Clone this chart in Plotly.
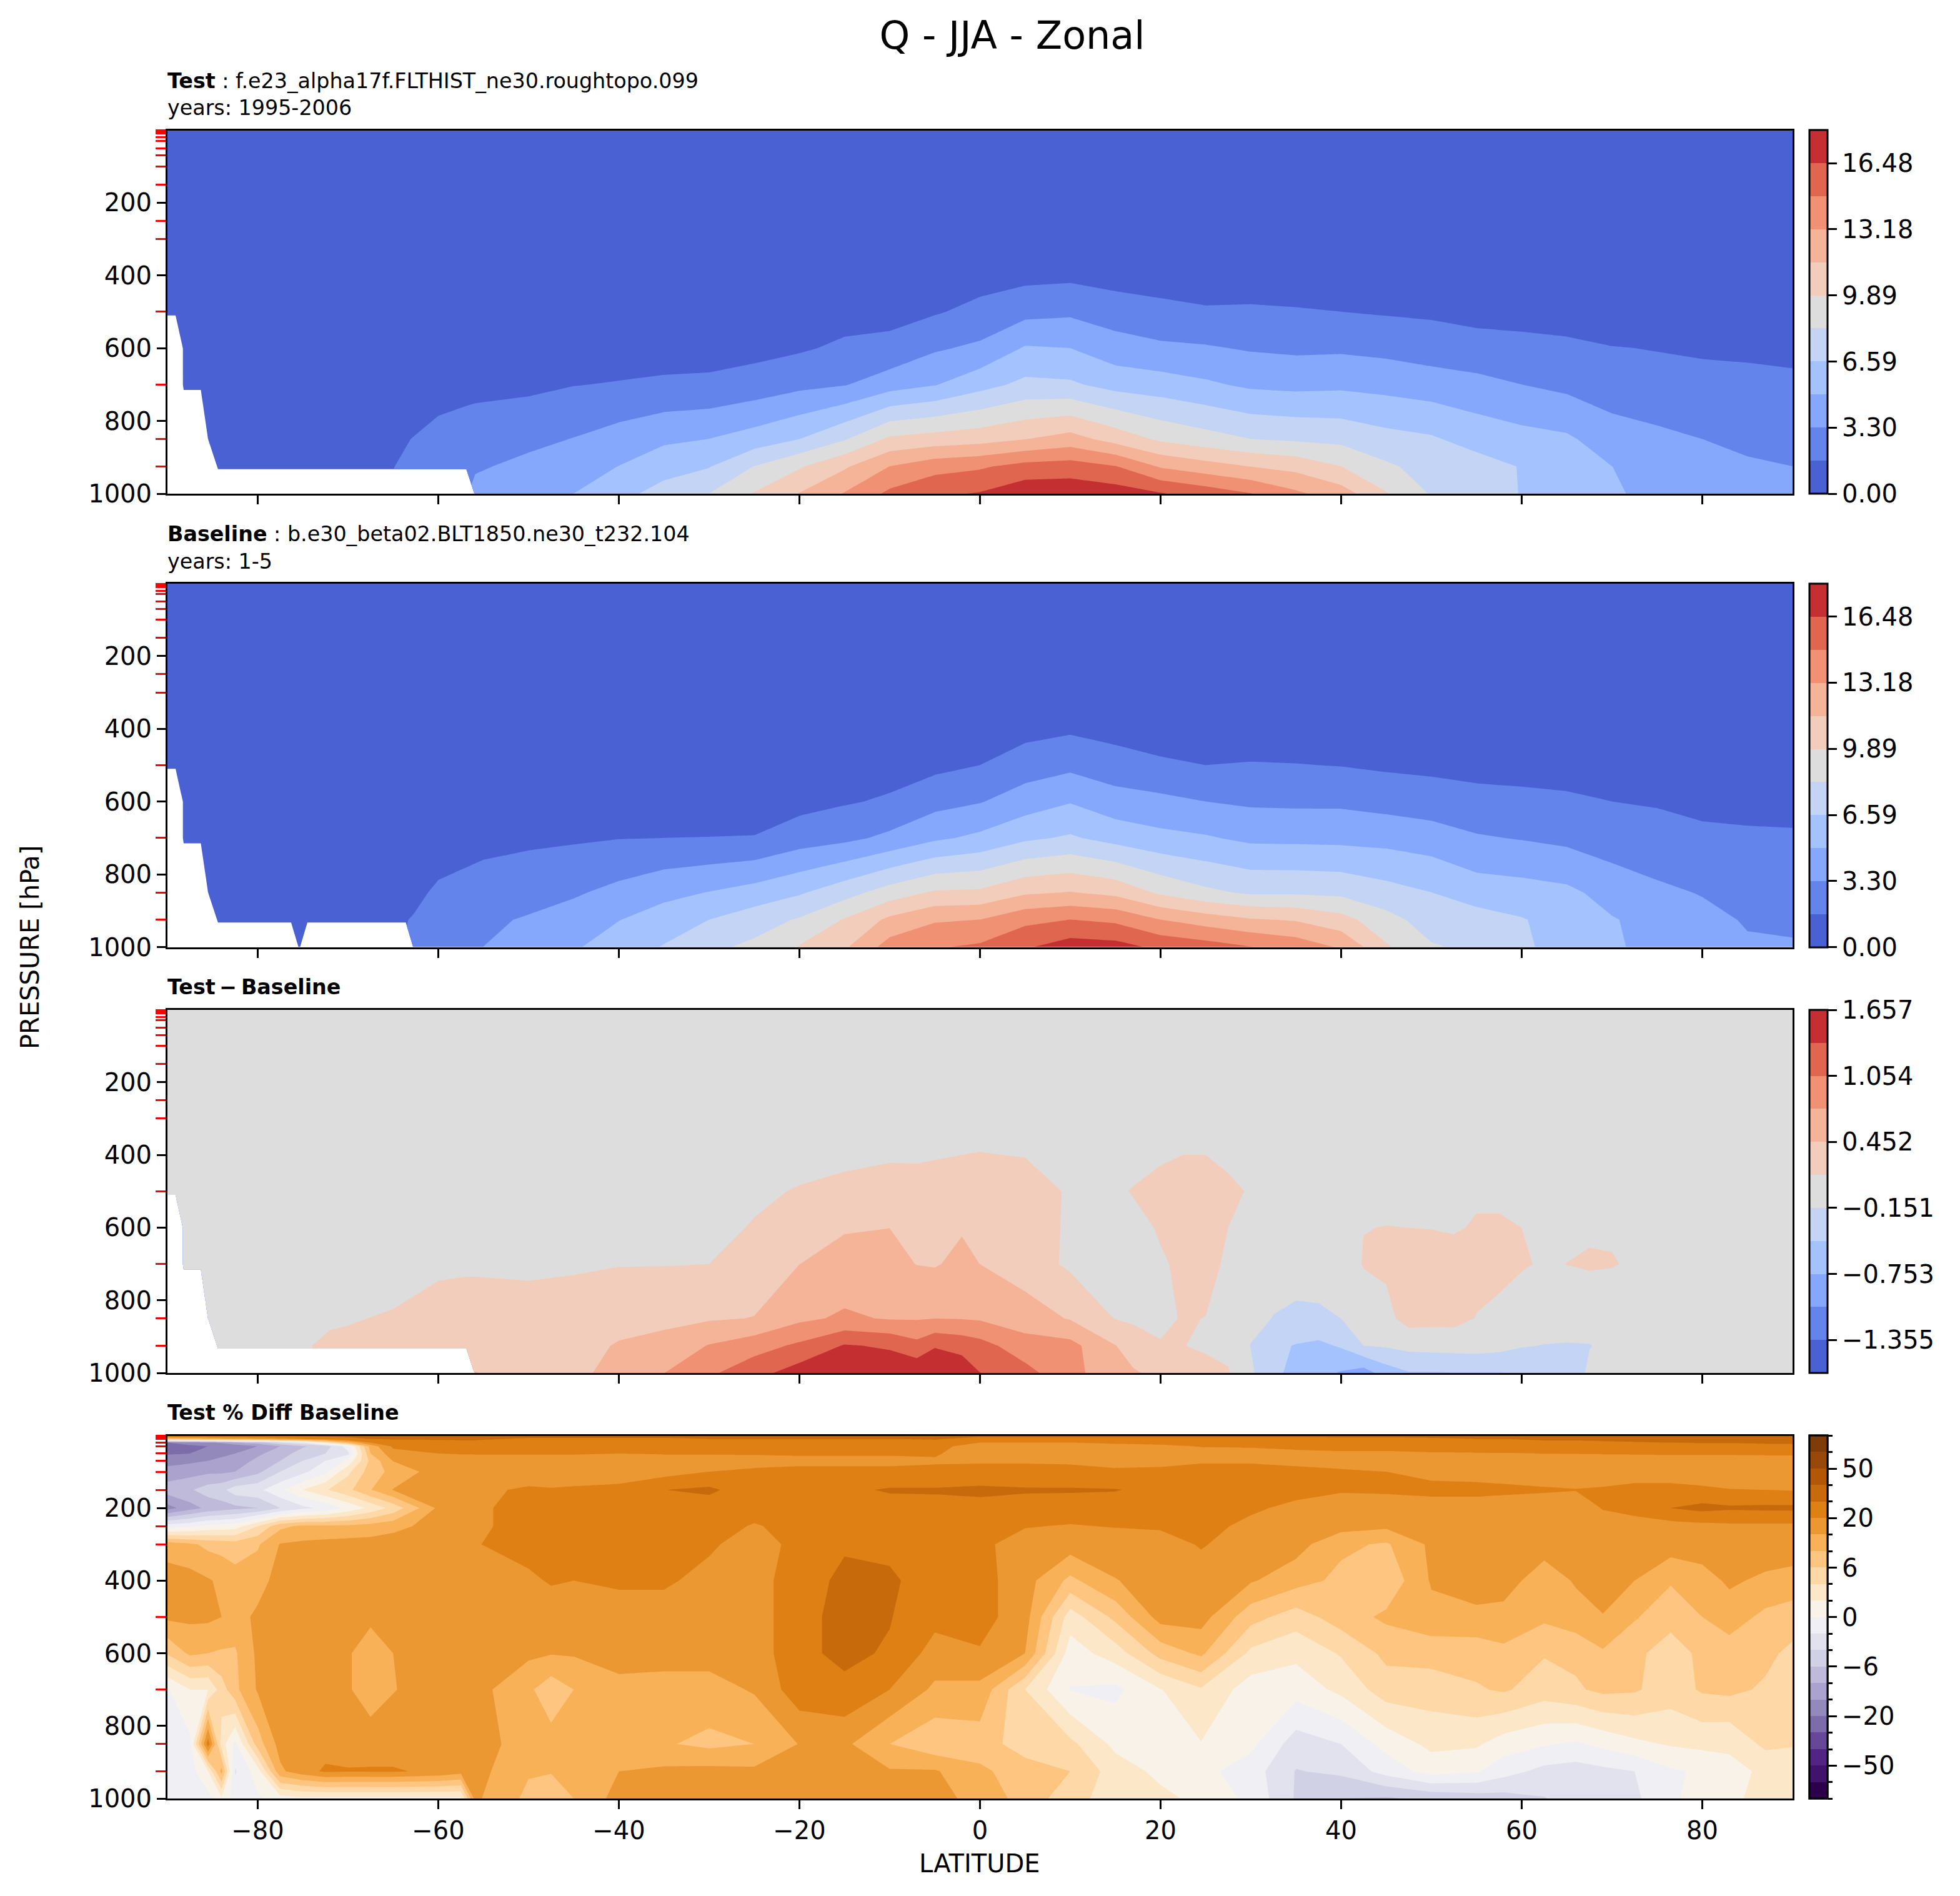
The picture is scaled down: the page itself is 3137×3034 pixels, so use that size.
import numpy as np
import plotly.graph_objects as go

N = None

# pressure rows of the tables below (each table line is one latitude column)
pres_low = [1, 300, 400, 500, 600, 700, 850, 925, 1000]
pres_full = [1, 10, 20, 30, 50, 70, 100, 150, 200, 250, 300, 400, 500, 600, 700, 850, 925, 1000]

# -- Test, g/kg --
lat_test = [-90, -89.1, -88.2, -87.3, -86.3, -85.4, -84.4, -80, -75, -70, -65, -60, -56.9, -55.9, -50, -45, -40, -35,
            -30, -25, -20, -15, -10, -5, 0, 5, 10, 15, 20, 25, 30, 35, 40, 45, 50, 55, 60, 65, 70, 75, 80, 85, 90]
q_test = [
    [0, 0, .05, .1, N, N, N, N, N],
    [0, 0, .05, .1, N, N, N, N, N],
    [0, .02, .05, .1, .2, .3, N, N, N],
    [0, .02, .05, .1, .2, .3, N, N, N],
    [0, .02, .05, .1, .2, .3, N, N, N],
    [0, .02, .05, .1, .2, .35, .6, N, N],
    [0, .02, .05, .1, .25, .4, .7, .9, N],
    [0, .02, .05, .15, .25, .45, .8, 1.0, N],
    [0, .02, .05, .15, .3, .5, .9, 1.1, N],
    [0, .02, .08, .2, .35, .6, 1.05, 1.3, N],
    [0, .03, .1, .2, .4, .7, 1.3, 1.6, N],
    [0, .03, .1, .25, .45, .9, 2.2, 2.9, N],
    [0, .04, .12, .25, .5, 1.1, 2.5, 3.0, N],
    [0, .04, .12, .25, .55, 1.15, 2.6, 3.1, 3.8],
    [0, .05, .15, .3, .6, 1.3, 2.9, 3.7, 4.6],
    [0, .05, .2, .35, .7, 1.6, 3.35, 4.15, 4.95],
    [0, .06, .2, .4, .8, 1.75, 3.98, 4.97, 6.1],
    [0, .07, .2, .45, .9, 1.92, 4.65, 5.96, 7.2],
    [0, .08, .25, .5, 1.0, 1.97, 4.96, 6.5, 8.25],
    [0, .1, .3, .6, 1.15, 2.34, 5.66, 8.28, 10.0],
    [0, .1, .3, .8, 1.45, 2.87, 6.59, 9.7, 11.6],
    [0, .12, .4, 1.0, 1.95, 3.2, 8.1, 11.3, 13.3],
    [0, .15, .5, 1.2, 2.05, 4.2, 10.2, 13.2, 15.2],
    [0, .2, .6, 1.5, 3.1, 4.85, 10.6, 14.2, 16.2],
    [0, .3, 1.0, 2.1, 3.6, 6.0, 10.9, 14.6, 16.6],
    [0, .35, 1.2, 2.8, 5.1, 7.0, 11.5, 15.4, 17.6],
    [0, .4, 1.3, 3.0, 4.95, 6.85, 12.2, 15.6, 17.6],
    [0, .35, 1.0, 2.5, 4.0, 6.0, 10.9, 14.9, 17.3],
    [0, .3, .9, 2.1, 3.6, 5.7, 9.6, 13.0, 16.6],
    [0, .25, .7, 1.85, 3.45, 5.2, 8.9, 12.2, 15.8],
    [0, .25, .7, 1.9, 3.15, 4.65, 8.25, 11.5, 14.9],
    [0, .2, .6, 1.8, 3.0, 4.5, 8.0, 11.0, 13.5],
    [0, .2, .6, 1.65, 3.05, 4.6, 7.8, 9.9, 12.3],
    [0, .15, .5, 1.5, 2.85, 4.4, 7.15, 8.5, 10.0],
    [0, .15, .4, 1.4, 2.5, 4.1, 6.8, 7.6, 8.1],
    [0, .1, .4, 1.2, 2.2, 3.8, 5.95, 7.3, 7.7],
    [0, .1, .35, 1.1, 2.1, 3.3, 5.5, 6.5, 6.5],
    [0, .1, .3, 1.0, 1.95, 2.9, 5.2, 5.9, 6.0],
    [0, .08, .25, .8, 1.7, 2.4, 4.1, 4.95, 5.1],
    [0, .06, .2, .7, 1.6, 2.1, 3.7, 4.3, 4.6],
    [0, .05, .2, .6, 1.5, 2.0, 3.3, 3.9, 4.2],
    [0, .05, .15, .5, 1.45, 1.95, 2.95, 3.5, 3.8],
    [0, .05, .15, .5, 1.4, 1.85, 2.8, 3.3, 3.6],
]

# -- Baseline, g/kg --
lat_base = [-90, -89.1, -88.2, -87.3, -86.3, -85.4, -84.4, -80, -76.3, -75.4, -74.5, -70, -65, -63.6, -62.7, -60, -55,
            -50, -45, -40, -35, -30, -25, -20, -15, -10, -5, 0, 5, 10, 15, 20, 25, 30, 35, 40, 45, 50, 55, 60, 65, 70,
            75, 80, 85, 90]
q_base = [
    [0, 0, .05, .1, N, N, N, N, N],
    [0, 0, .05, .1, N, N, N, N, N],
    [0, .02, .05, .1, .2, .3, N, N, N],
    [0, .02, .05, .1, .2, .3, N, N, N],
    [0, .02, .05, .1, .2, .3, N, N, N],
    [0, .02, .05, .1, .2, .35, .6, N, N],
    [0, .02, .05, .1, .25, .4, .7, .9, N],
    [0, .02, .05, .15, .25, .45, .8, 1.0, N],
    [0, .02, .05, .15, .3, .5, .85, .95, N],
    [0, .02, .05, .15, .3, .5, .85, .95, 1.05],
    [0, .02, .05, .15, .3, .5, .85, 1.0, N],
    [0, .02, .08, .2, .35, .6, 1.0, 1.2, N],
    [0, .03, .1, .2, .4, .7, 1.1, 1.45, N],
    [0, .03, .1, .2, .4, .7, 1.2, 1.6, N],
    [0, .03, .1, .2, .4, .72, 1.3, 1.75, 2.1],
    [0, .03, .1, .25, .45, .8, 1.9, 2.6, 2.9],
    [0, .04, .12, .25, .55, 1.05, 2.55, 3.0, 3.3],
    [0, .05, .15, .3, .6, 1.35, 2.65, 3.45, 4.0],
    [0, .05, .2, .35, .7, 1.45, 3.1, 4.0, 4.75],
    [0, .06, .2, .4, .8, 1.6, 3.75, 4.9, 5.8],
    [0, .07, .2, .45, 1.0, 1.65, 4.5, 5.7, 6.7],
    [0, .08, .25, .5, 1.0, 1.67, 5.0, 6.6, 7.9],
    [0, .1, .3, .6, 1.0, 1.7, 5.6, 7.5, 8.6],
    [0, .1, .3, .7, 1.1, 2.5, 6.4, 8.4, 10.0],
    [0, .12, .4, .85, 1.5, 2.9, 7.6, 10.0, 11.3],
    [0, .15, .5, 1.0, 1.85, 3.65, 9.0, 11.9, 13.9],
    [0, .2, .6, 1.25, 2.75, 4.65, 10.1, 13.0, 14.7],
    [0, .25, .8, 1.65, 3.2, 5.3, 10.2, 13.2, 15.1],
    [0, .35, 1.1, 2.5, 4.1, 6.3, 11.3, 14.4, 16.3],
    [0, .4, 1.4, 2.9, 4.85, 6.8, 11.6, 14.85, 17.3],
    [0, .35, 1.05, 2.4, 3.95, 6.0, 11.1, 14.5, 17.1],
    [0, .3, .85, 1.9, 3.7, 5.4, 9.6, 13.2, 16.1],
    [0, .25, .7, 1.65, 3.3, 5.1, 8.6, 12.4, 15.6],
    [0, .25, .7, 1.75, 3.05, 4.6, 8.0, 11.7, 14.9],
    [0, .25, .7, 1.7, 3.0, 4.55, 8.0, 11.4, 14.2],
    [0, .2, .6, 1.6, 3.0, 4.5, 7.85, 10.5, 13.0],
    [0, .15, .5, 1.4, 2.7, 4.4, 7.2, 8.8, 10.1],
    [0, .15, .45, 1.3, 2.4, 4.1, 6.6, 7.5, 8.4],
    [0, .1, .4, 1.15, 2.15, 3.45, 5.8, 7.3, 7.9],
    [0, .1, .35, 1.0, 2.1, 3.2, 5.6, 6.7, 6.8],
    [0, .1, .3, .9, 1.95, 2.9, 5.3, 5.9, 6.1],
    [0, .08, .25, .8, 1.65, 2.4, 4.35, 5.05, 5.1],
    [0, .06, .2, .7, 1.55, 2.1, 3.65, 4.4, 4.6],
    [0, .05, .2, .6, 1.35, 1.9, 3.2, 3.8, 4.1],
    [0, .05, .15, .5, 1.25, 1.85, 2.7, 3.15, 3.5],
    [0, .05, .15, .5, 1.25, 1.8, 2.6, 3.1, 3.4],
]

# -- Test - Baseline, g/kg --
lat_diff = [-90, -89.1, -88.2, -87.3, -86.3, -85.4, -84.4, -80, -75, -72, -70, -65, -60, -56.9, -55.9, -50, -45, -40,
            -35, -30, -25, -20, -15, -10, -7, -5, -2, 0, 5, 10, 15, 17, 20, 22.5, 25, 27.5, 30, 32.5, 35, 37.5, 40,
            42.5, 45, 47.5, 50, 52.5, 55, 57.5, 60, 62.5, 65, 67.5, 70, 72, 75, 80, 85, 90]
q_diff = [
    [0, 0, 0, .02, N, N, N, N, N],
    [0, 0, 0, .02, N, N, N, N, N],
    [0, 0, 0, .02, .03, .03, N, N, N],
    [0, 0, 0, .02, .03, .03, N, N, N],
    [0, 0, 0, .02, .03, .03, N, N, N],
    [0, 0, 0, .02, .03, .04, .05, N, N],
    [0, 0, 0, .02, .03, .04, .05, .06, N],
    [0, 0, 0, .02, .03, .04, .05, .08, N],
    [0, 0, .01, .02, .03, .04, .06, .13, N],
    [0, 0, .01, .02, .03, .05, .12, .19, N],
    [0, 0, .01, .02, .03, .05, .14, .18, N],
    [0, 0, .01, .02, .04, .08, .165, .22, N],
    [0, 0, .01, .02, .05, .11, .24, .27, N],
    [0, 0, .01, .03, .06, .12, .25, .3, N],
    [0, 0, .01, .03, .06, .12, .25, .3, .46],
    [0, 0, .01, .03, .06, .11, .24, .3, .35],
    [0, 0, .01, .03, .05, .12, .27, .33, .38],
    [0, 0, .01, .03, .06, .14, .33, .48, .55],
    [0, 0, .01, .03, .06, .14, .38, .55, .75],
    [0, 0, .01, .03, .07, .15, .42, .77, 1.0],
    [0, .01, .03, .1, .17, .28, .46, .93, 1.25],
    [0, .02, .05, .17, .32, .45, .69, 1.11, 1.5],
    [0, .03, .09, .22, .43, .55, .8, 1.38, 1.65],
    [0, .03, .1, .33, .45, .55, .73, 1.32, 1.55],
    [0, .03, .1, .31, .4, .445, .73, 1.15, 1.6],
    [0, .03, .12, .33, .39, .43, .75, 1.33, 1.65],
    [0, .05, .15, .38, .43, .52, .74, 1.25, 1.55],
    [0, .05, .16, .37, .42, .45, .72, 1.17, 1.36],
    [0, .04, .14, .28, .33, .3, .6, .88, 1.16],
    [0, .03, .07, .12, .1, .1, .43, .85, .83],
    [0, .01, .03, .1, .03, .04, .14, .46, .6],
    [0, .01, .03, .17, .06, .05, .1, .32, .48],
    [0, .02, .13, .2, .18, .12, .12, .16, .38],
    [0, .02, .15, .25, .24, .2, .16, .155, .3],
    [0, .02, .15, .25, .23, .21, .148, .12, .22],
    [0, .01, .1, .2, .15, .12, .13, .09, .17],
    [0, 0, .05, .13, .08, .02, -.06, -.16, -.1],
    [0, 0, .02, .05, .03, -.03, -.16, -.38, -.4],
    [0, 0, .01, .03, .02, -.05, -.2, -.47, -.52],
    [0, 0, .01, .03, .02, -.05, -.19, -.52, -.65],
    [0, 0, .01, .03, .05, -.03, -.15, -.42, -.78],
    [0, 0, .01, .05, .145, .17, -.06, -.15, -.9],
    [0, 0, .02, .08, .155, .2, .07, -.12, -.6],
    [0, 0, .03, .1, .15, .24, .26, -.06, -.47],
    [0, 0, .03, .1, .145, .25, .24, -.04, -.47],
    [0, 0, .03, .12, .13, .24, .24, -.03, -.46],
    [0, 0, .03, .12, .17, .24, .14, -.02, -.46],
    [0, 0, .03, .12, .17, .21, .1, -.05, -.46],
    [0, 0, .02, .1, .15, .17, .03, -.13, -.44],
    [0, 0, 0, .07, .1, .13, .02, -.16, -.4],
    [0, 0, 0, .04, .08, .153, 0, -.17, -.36],
    [0, 0, 0, .04, .12, .175, -.02, -.16, -.1],
    [0, 0, 0, .04, .12, .165, -.02, -.08, -.08],
    [0, 0, 0, .03, .1, .13, -.01, -.05, -.05],
    [0, 0, 0, .03, .06, .08, 0, -.03, -.03],
    [0, 0, 0, .02, .04, .05, 0, -.02, -.02],
    [0, 0, 0, .02, .04, .05, 0, -.02, -.02],
    [0, 0, 0, .02, .04, .05, 0, -.02, -.02],
]

# -- Test % Diff Baseline --
lat_pct = [-90, -87.5, -85.5, -84, -82.5, -80, -77.5, -75, -72.5, -70, -67.5, -65, -60, -57.5, -56, -50, -47.5, -45,
           -40, -35, -30, -25, -20, -15, -10, -5, 0, 5, 10, 15, 20, 24.5, 30, 35, 40, 45, 50, 55, 58, 62.5, 66, 69,
           72.5, 76.5, 80, 83, 87, 90]
q_pct = [
    [30, 8, -20, -25, -21, -17, -13, -8, -17, -1, 13, 17, 16, 6.5, -.2, -1, -1, -1],
    [31, 10, -18, -22, -20, -16, -12, -6.5, -12, -.5, 11, 17, 16, 11, 2, -.5, -1, -1],
    [31, 12, -16, -20, -17, -15, -11, -5, -9, .5, 9, 15.5, 16, 10, 2, 26, 2, -.8],
    [31, 13, -14, -20, -16, -14, -11, -4.5, -8, .7, 8.5, 14, 15, 9.5, 5, 3, 12, 1.5],
    [31, 14, -10, -19, -15, -13, -10, -3, -7, 1, 8, 12, 13, 9.5, 9, -.5, -2.2, -1],
    [31, 15, -8, -15, -11, -9, -7, -2.5, -6, 4, 9.5, 13, 16, 16, 15.5, 8, 1, -.3],
    [31, 18, -4, -10, -8, -6, -4, -.5, -4, 9, 15.3, 17, 17, 17, 17, 17, 14, 1],
    [32, 20, -2, -6.5, -5, -4, -2.5, 2, -2.5, 11, 16, 17, 17, 17, 17, 17, 18, 1.5],
    [32, 24, 3, -5, -4, -2, -.5, 3.8, -1.5, 11, 16.5, 17, 17, 17, 17, 18, 21.5, 1.5],
    [32, 28, 10, -1, -2.5, .5, 3.5, 5.5, .5, 11, 17, 17, 17.5, 15.5, 15.5, 17.5, 20.8, 1.5],
    [32, 30, 20, 12, 10, 7, 8, 9.8, 2.5, 12, 17, 17, 16, 12.5, 12.5, 17.5, 21, 1.5],
    [32, 31, 25, 22, 18, 15.2, 11.5, 15.2, 4.7, 13.5, 17.5, 17, 17, 15, 14.8, 17.5, 21, 1.5],
    [33, 31, 27, 25, 20, 18, 17.5, 17, 16, 17, 17, 17.5, 17.5, 17, 17, 17.5, 19, 1.5],
    [33, 31, 28, 25, 20.5, 18, 17.5, 18, 18.5, 18, 18, 18, 17, 17, 17, 17, 17, 1.5],
    [33, 31, 28, 25, 20.5, 18.5, 18, 19.2, 19.2, 19.2, 19.7, 18, 17, 17, 17, 17, 17, 16],
    [32, 29, 26, 24, 20.5, 18.5, 18, 21, 23, 23, 24, 19, 17, 16, 11, 13, 10.5, 9],
    [32, 29, 25, 24, 20.5, 18.5, 18, 20.5, 23.5, 24, 24, 21, 17, 15.3, 7.5, 12, 10.2, 8.5],
    [32, 29, 25, 23, 20.5, 18.5, 18, 21, 24, 24, 24, 20, 17, 15.5, 10, 12, 11, 10],
    [32, 29, 25, 23, 20, 18.5, 18, 22, 25, 25, 25, 22, 17, 17, 13.5, 13, 15, 17],
    [32, 29, 26, 23.5, 20.5, 18.5, 18, 29.9, 26, 26, 25, 22, 17, 17, 13, 10.5, 16, 17],
    [33, 30, 26, 23, 20.5, 18.5, 20, 32, 25, 25, 22, 18, 17, 17, 13, 9, 16.5, 17],
    [33, 30, 26, 23, 20.5, 19, 21, 24, 25, 19.5, 17, 17, 17, 17, 15.5, 10, 16, 17],
    [34, 30, 26, 23, 21, 19, 22, 25, 25, 24, 24, 28, 28, 28, 26, 15.2, 16, 17],
    [34, 30, 26, 23, 21, 19, 22, 28, 25, 25, 29.5, 31, 32, 32, 28, 16, 16, 17],
    [34, 30, 26, 22.5, 21, 19, 22, 31, 26, 26, 27, 32, 30.5, 29, 20, 10, 15.5, 17],
    [34, 31, 26, 22, 21, 19.5, 22, 31, 27, 27, 27, 24, 23, 18, 14, 7, 15.5, 17],
    [32, 26, 20, 18.5, 17.5, 19.5, 23, 32, 27, 25, 22, 24, 24, 19.5, 13.5, 8, 11, 13],
    [32, 26, 20, 19, 17.5, 19.5, 23, 31, 26, 20.5, 18, 17, 17, 15, 4, 5, 8, 8.5],
    [32, 26, 20, 19, 17.5, 19.5, 22, 31, 25, 19.7, 17.5, 9, 3, 1, -.1, 4.5, 6, 4.8],
    [32, 26, 21, 19, 17.5, 19, 21, 30.5, 25, 20.5, 17.5, 14.8, 7, 3, -.5, 1.5, 3, 3],
    [32, 26, 22.5, 19, 17.5, 19, 21.5, 27, 25, 21.5, 17.5, 17, 17, 7.5, 1.9, 1, 1.5, 2.5],
    [32, 26, 24, 20.5, 18, 19.5, 23, 26, 25, 24, 21, 17, 17, 11, 3.8, 1.9, .6, 1.5],
    [32, 27, 25, 21, 18, 19.5, 23, 25, 22, 18.5, 17, 15.5, 7.5, 3.5, 1, .5, -1, -.5],
    [32, 27, 26, 23, 18.5, 19, 22, 24, 18.5, 17, 17, 12, 5, 2.5, .8, -3, -4.1, -4.2],
    [32, 28, 26, 24, 19, 18.5, 21, 21, 17.5, 17, 11, 9, 8, 4.2, 2.5, -2, -3.6, -6],
    [32, 28, 27, 24, 19, 18.5, 20, 21.5, 17.5, 16, 9.5, 7, 11, 7, 5, .7, -1.2, -6.5],
    [32, 29, 27.5, 25, 19.5, 18, 18.5, 23, 17.5, 17, 16, 15.5, 13.5, 7.5, 5, 2.5, .8, -5.5],
    [33, 30, 28, 25, 19.7, 18, 18, 23, 17.5, 17, 17, 17, 14, 7.5, 5.8, 2.3, .2, -5],
    [33, 30, 28, 25, 19.8, 18, 18, 22, 17.5, 17, 17, 17, 13.5, 9, 6.5, 1, -1.2, -4.8],
    [34, 31, 28.5, 26, 20.1, 18, 17.5, 21, 17.5, 17, 17, 12.5, 11, 6.3, 5, .2, -2.6, -4.1],
    [34, 31, 28.5, 26, 20.2, 18, 17.5, 20.3, 17.5, 17, 17, 15.5, 13, 7, 5.7, -.3, -2.9, -3],
    [35, 31.5, 29, 26, 20.5, 18, 17.5, 21, 20.5, 18, 17, 17, 14.8, 9.5, 7, .5, -2.5, -2.3],
    [36, 32, 29.5, 27, 20.7, 18, 17.5, 23, 24, 17.5, 17, 15, 10.5, 7, 6.5, 1.5, -2, -2.4],
    [37, 32.5, 30, 27, 21, 18, 17.5, 23, 30, 18, 17.5, 10.5, 7.5, 5, 5, 2.2, -.3, -.3],
    [37, 33, 30.5, 27, 21, 18, 17.5, 21.5, 33, 18.5, 17.5, 13, 10, 7, 6.5, 2.5, .3, .7],
    [38, 33, 30.5, 27, 21, 18, 17.5, 20.3, 31.5, 19, 17.5, 15.8, 12.5, 8, 7, 2.3, 1.5, 1.8],
    [38, 33, 31, 28, 21, 18.5, 17.5, 20, 32, 19, 18, 14, 9, 7, 5.7, 4.5, 2.3, 2.3],
    [38, 33, 31, 28, 21, 18.5, 17.5, 19.7, 32, 19, 18, 13, 8, 5.5, 5, 4.2, 2.5, 2.5],
]

pct_levels = [-70, -60, -50, -40, -30, -20, -15, -10, -6, -4, -2, 0, 2, 4, 6, 10, 15, 20, 30, 40, 50, 60, 70]
pct_labels = {-50: "\u221250", -20: "\u221220", -6: "\u22126", 0: "0", 6: "6", 20: "20", 50: "50"}

q_ticks = [0.00, 3.296, 6.592, 9.888, 13.184, 16.48]
q_ticktext = ["0.00", "3.30", "6.59", "9.89", "13.18", "16.48"]
diff_ticks = [-1.355, -0.753, -0.151, 0.452, 1.054, 1.657]
diff_ticktext = ["\u22121.355", "\u22120.753", "\u22120.151", "0.452", "1.054", "1.657"]

red_ticks = [1, 2, 3, 5, 7, 10, 20, 30, 50, 70, 100, 150, 250, 300, 500, 700, 850, 925]

coolwarm = ["#4961d2", "#6384eb", "#85a8fc", "#a3c2fe", "#c3d4f5", "#dddddd",
            "#f2cdbb", "#f5b498", "#f19173", "#e06650", "#c43032"]
puor = ["#2d004b", "#41136a", "#522585", "#674898", "#7c6ca9", "#9389ba", "#aba3cd", "#bfbada", "#d1d1e6", "#e1e2ee",
        "#f0f0f4", "#f9f2e8", "#fce7c9", "#fed8a6", "#fdc57f", "#f9b157", "#eb9732", "#de8013", "#c66a0c", "#b15706",
        "#98490a", "#7f3b08"]

FW, FH = 3137, 3034
X0, X1 = 268, 2869
PANELS = [(208.5, 790), (934, 1515.5), (1616, 2197), (2297.5, 2878)]
CB_X = 2895.7
FONT = "DejaVu Sans"


def nodes(colors):
    return [[i / (len(colors) - 1), c] for i, c in enumerate(colors)]


def steps(colors):
    scale = []
    for i, c in enumerate(colors):
        scale.append([i / len(colors), c])
        scale.append([(i + 1) / len(colors), c])
    return scale


def grid(columns):
    return np.array(columns, dtype=float).T


fig = go.Figure()


def add_colorbar(row, colors, cmin, cmax, tickvals, ticktext, ticklen=14):
    top, bottom = PANELS[row]
    suffix = "" if row == 0 else str(row + 1)
    # the contour trace's own bar stops half a bin short, so the bar comes from an empty marker trace
    fig.add_trace(go.Scatter(
        x=[None], y=[None], mode="markers", xaxis="x" + suffix, yaxis="y" + suffix, hoverinfo="skip",
        marker=dict(color=[cmin], colorscale=steps(colors), cmin=cmin, cmax=cmax, showscale=True,
                    colorbar=dict(x=CB_X / FW, xanchor="left", xpad=0, y=1 - (top + bottom) / 2 / FH, yanchor="middle",
                                  ypad=0, len=(bottom - top) / FH, lenmode="fraction", thickness=28.6,
                                  thicknessmode="pixels", outlinewidth=3, outlinecolor="black", tickmode="array",
                                  tickvals=tickvals, ticktext=ticktext, tickprefix="\u2009", ticks="outside",
                                  ticklen=ticklen, tickwidth=3, tickcolor="black",
                                  tickfont=dict(family=FONT, size=40, color="black"))),
    ))


def add_panel(row, lat, pres, z, colors, start, end, size):
    suffix = "" if row == 0 else str(row + 1)
    fig.add_trace(go.Contour(
        x=lat, y=pres, z=z, xaxis="x" + suffix, yaxis="y" + suffix, showscale=False,
        colorscale=nodes(colors), autocontour=False,
        contours=dict(start=start, end=end, size=size, coloring="fill", showlines=False),
        line=dict(width=0, smoothing=0), connectgaps=False, hoverinfo="skip",
    ))


add_panel(0, lat_test, pres_low, grid(q_test), coolwarm, 1.648, 16.48, 1.648)
add_colorbar(0, coolwarm, 0, 18.128, q_ticks, [" " * 0 + t for t in q_ticktext])
add_panel(1, lat_base, pres_low, grid(q_base), coolwarm, 1.648, 16.48, 1.648)
add_colorbar(1, coolwarm, 0, 18.128, q_ticks, q_ticktext)
add_panel(2, lat_diff, pres_low, grid(q_diff), coolwarm, -1.356, 1.356, 0.3013)
add_colorbar(2, coolwarm, -1.657, 1.657, diff_ticks, diff_ticktext)

# the percent levels are not evenly spaced, contour needs them as level numbers
level_no = np.arange(len(pct_levels))
z_pct = np.interp(grid(q_pct), pct_levels, level_no)
add_panel(3, lat_pct, pres_full, z_pct, puor, 1, 21, 1)
# short ticks on every level first, the long labelled ticks drawn over them
add_colorbar(3, puor, 0, 22, list(level_no), [""] * len(level_no), ticklen=7)
add_colorbar(3, puor, 0, 22, [pct_levels.index(v) for v in pct_labels], list(pct_labels.values()))

layout = {}
for row, (top, bottom) in enumerate(PANELS):
    suffix = "" if row == 0 else str(row + 1)
    layout["xaxis" + suffix] = dict(
        domain=[X0 / FW, X1 / FW], range=[-90, 90], anchor="y" + suffix, tickmode="array",
        tickvals=list(range(-80, 81, 20)), showticklabels=row == 3, ticks="outside", ticklen=14, tickwidth=3,
        tickcolor="black", showline=True, linecolor="black", linewidth=3, mirror=True, showgrid=False, zeroline=False,
        tickfont=dict(family=FONT, size=40, color="black"))
    layout["yaxis" + suffix] = dict(
        domain=[1 - bottom / FH, 1 - top / FH], range=[1000, 1], anchor="x" + suffix, tickmode="array",
        tickvals=[200, 400, 600, 800, 1000], ticks="outside", ticklen=14, tickwidth=3, tickcolor="black",
        showline=True, linecolor="black", linewidth=3, mirror=True, showgrid=False, zeroline=False,
        tickfont=dict(family=FONT, size=40, color="black"),
        minor=dict(tickmode="array", tickvals=red_ticks, ticks="outside", ticklen=16, tickwidth=2.5, tickcolor="red"))


def note(text, x, y, size=33.33, anchor="left", angle=0):
    return dict(text=text, xref="paper", yref="paper", x=x / FW, y=1 - y / FH, xanchor=anchor, yanchor="middle",
                showarrow=False, textangle=angle, font=dict(family=FONT, size=size, color="black"))


annotations = [
    note("<b>Test</b> : f.e23_alpha17f.FLTHIST_ne30.roughtopo.099", X0 - 2, 129),
    note("years: 1995-2006", X0 - 2, 172),
    note("<b>Baseline</b> : b.e30_beta02.BLT1850.ne30_t232.104", X0 - 2, 854),
    note("years: 1-5", X0 - 2, 898),
    note("<b>Test\u2009\u2212\u2009Baseline</b>", X0 - 2, 1579),
    note("<b>Test % Diff Baseline</b>", X0 - 2, 2260),
    note("LATITUDE", 1567, 2982, size=40, anchor="center"),
    note("PRESSURE [hPa]", 48, 1516, size=40, anchor="center", angle=-90),
]

fig.update_layout(
    width=FW, height=FH, autosize=False, margin=dict(l=0, r=0, t=0, b=0, autoexpand=False),
    paper_bgcolor="white", plot_bgcolor="white", showlegend=False,
    title=dict(text="Q - JJA - Zonal", x=1620 / FW, xanchor="center", y=1 - 56 / FH, yanchor="middle",
               font=dict(family=FONT, size=62, color="black")),
    annotations=annotations, **layout)

# the page's default body margin would push the figure off the window
fig.write_html("out.html", config={"displayModeBar": False}, post_script="document.body.style.margin='0';")
